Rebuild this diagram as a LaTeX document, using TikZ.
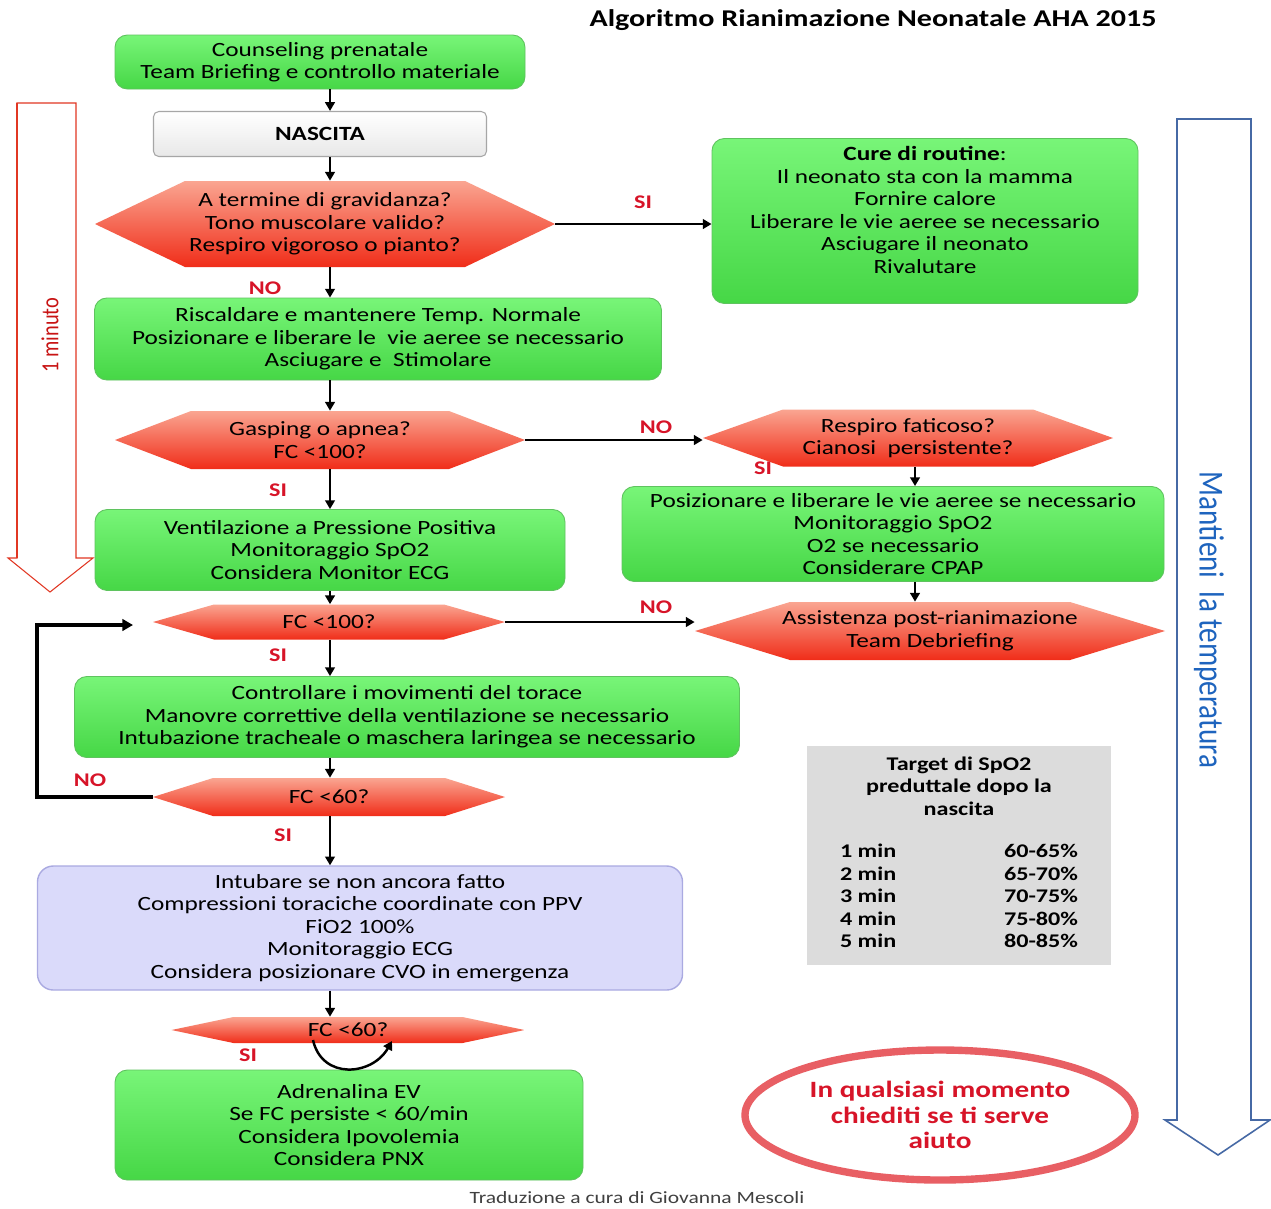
\documentclass[tikz,border=0pt]{standalone}
\usepackage{fontspec}
\setmainfont[FakeStretch=1.25]{Carlito}
\newfontfamily\rotfont[FakeStretch=0.83]{Carlito}
\usetikzlibrary{arrows.meta,shapes.geometric}
\definecolor{gtop}{RGB}{120,245,120}
\definecolor{gbot}{RGB}{70,215,70}
\definecolor{gedge}{RGB}{95,195,95}
\definecolor{htop}{RGB}{250,165,145}
\definecolor{hbot}{RGB}{240,45,25}
\definecolor{lav}{RGB}{218,218,250}
\definecolor{lavedge}{RGB}{170,170,225}
\definecolor{lblred}{RGB}{215,20,40}
\definecolor{tabgray}{RGB}{220,220,220}
\definecolor{ellred}{RGB}{232,95,100}
\definecolor{minred}{RGB}{225,55,35}
\definecolor{mintxt}{RGB}{200,20,20}
\definecolor{mblue}{RGB}{70,105,165}
\definecolor{tblue}{RGB}{30,100,190}
\def\u{0.02cm}
\tikzset{
 txt/.style={font=\fontsize{11.5}{12.8}\selectfont, align=center, inner sep=0pt},
 gbox/.style={txt, rounded corners=7pt, draw=gedge, line width=0.5pt, top color=gtop, bottom color=gbot},
 nbox/.style={txt, rounded corners=3pt, draw=gray!70, line width=0.6pt, top color=white, bottom color=gray!18},
 pbox/.style={txt, rounded corners=9pt, draw=lavedge, line width=0.8pt, fill=lav},
 hin/.code={\def\hexin{#1}},
 hexa/.style={txt, path picture={
   \shade[top color=htop, bottom color=hbot]
    (path picture bounding box.west)
    -- ([xshift=\hexin]path picture bounding box.north west)
    -- ([xshift=-\hexin]path picture bounding box.north east)
    -- (path picture bounding box.east)
    -- ([xshift=-\hexin]path picture bounding box.south east)
    -- ([xshift=\hexin]path picture bounding box.south west) -- cycle;}},
 arr/.style={line width=1.4pt, -{Triangle[length=5pt,width=5.5pt]}},
 loopl/.style={line width=2.2pt, -{Triangle[length=6pt,width=6.5pt]}},
 lbl/.style={text=lblred, font=\fontsize{11}{12}\selectfont\bfseries, inner sep=0pt},
}
\begin{document}
\begin{tikzpicture}[x=0.02cm,y=-0.02cm]
\useasboundingbox (0,0) rectangle (1271,1208);
\fill[white] (0,0) rectangle (1271,1208);

% side arrows
\draw[minred, line width=0.6pt] (17,103) -- (76,103) -- (76,558) -- (93,558) -- (50,592) -- (8,558) -- (17,558) -- cycle;
\draw[minred, line width=1.6pt] (17,103) -- (17,558);
\node[rotate=90, text=mintxt, font=\rotfont\fontsize{14}{16}\selectfont] (minuto) at (50,335) {1 minuto};
\draw[mblue, line width=0.9pt] (1177,119) -- (1251,119) -- (1251,1120) -- (1270,1120) -- (1218,1155) -- (1165,1120) -- (1177,1120) -- cycle;
\node[rotate=-90, text=tblue, font=\rotfont\fontsize{20}{22}\selectfont] (temp) at (1209,620) {Mantieni\ \ la temperatura};

% title
\node[txt, font=\fontsize{13.7}{15}\selectfont\bfseries] (title) at (873,20) {Algoritmo Rianimazione Neonatale AHA 2015};

% main flow
\node[gbox, minimum width=410*\u, minimum height=54*\u] (b1) at (320,62) {Counseling prenatale\\Team Briefing e controllo materiale};
\node[nbox, minimum width=333*\u, minimum height=45*\u] (nas) at (320,134) {\bfseries NASCITA};
\node[hexa, hin=90*\u, minimum width=460*\u, minimum height=86*\u] (h1) at (325,224) {A termine di gravidanza?\\Tono muscolare valido?\\Respiro vigoroso o pianto?};
\node[gbox, minimum width=426*\u, minimum height=165*\u] (cure) at (925,221) {\textbf{Cure di routine}:\\Il neonato sta con la mamma\\Fornire calore\\Liberare le vie aeree se necessario\\Asciugare il neonato\\Rivalutare\\\mbox{}};
\node[gbox, minimum width=567*\u, minimum height=82*\u] (b3) at (378,339) {Riscaldare e mantenere Temp. Normale\\Posizionare e liberare le\ \ vie aeree se necessario\\Asciugare e\ \ Stimolare};
\node[hexa, hin=76*\u, minimum width=410*\u, minimum height=58*\u] (h2) at (320,440) {Gasping o apnea?\\FC <100?};
\node[hexa, hin=80*\u, minimum width=410*\u, minimum height=57*\u] (h3) at (908,438) {Respiro faticoso?\\Cianosi\ \ persistente?};
\node[gbox, minimum width=542*\u, minimum height=95*\u] (b3r) at (893,534) {Posizionare e liberare le vie aeree se necessario\\Monitoraggio SpO2\\O2 se necessario\\Considerare CPAP};
\node[hexa, hin=95*\u, minimum width=470*\u, minimum height=58*\u] (h4) at (930,631) {Assistenza post-rianimazione\\Team Debriefing};
\node[gbox, minimum width=470*\u, minimum height=81*\u] (b4) at (330,550) {Ventilazione a Pressione Positiva\\Monitoraggio SpO2\\Considera Monitor ECG};
\node[hexa, hin=61*\u, minimum width=352*\u, minimum height=35*\u] (h5) at (329,622) {FC <100?};
\node[gbox, minimum width=665*\u, minimum height=81*\u] (b5) at (407,717) {Controllare i movimenti del torace\\Manovre correttive della ventilazione se necessario\\Intubazione tracheale o maschera laringea se necessario};
\node[hexa, hin=60*\u, minimum width=352*\u, minimum height=38*\u] (h6) at (329,797) {FC <60?};
\node[pbox, minimum width=645*\u, minimum height=124*\u] (b6) at (360,928) {Intubare se non ancora fatto\\Compressioni toraciche coordinate con PPV\\FiO2 100\%\\Monitoraggio ECG\\Considera posizionare CVO in emergenza};
\node[hexa, hin=62*\u, minimum width=353*\u, minimum height=26*\u] (h7) at (348,1030) {FC <60?};
\node[gbox, minimum width=468*\u, minimum height=110*\u] (b7) at (349,1125) {Adrenalina EV\\Se FC persiste < 60/min\\Considera Ipovolemia\\Considera PNX};

% table
\node[fill=tabgray, minimum width=304*\u, minimum height=219*\u, inner sep=0pt] (tab) at (959,855) {};
\node[font=\fontsize{11}{12.8}\selectfont\bfseries, align=center, inner sep=0pt] (tabh) at (959,786) {Target di SpO2\\preduttale dopo la\\nascita};
\node[font=\fontsize{11}{12.8}\selectfont\bfseries, inner sep=0pt] (tabr) at (959,898) {\begin{tabular*}{4.76cm}{@{}l@{\extracolsep{\fill}}r@{}}1 min & 60-65\%\\2 min & 65-70\%\\3 min & 70-75\%\\4 min & 75-80\%\\5 min & 80-85\%\end{tabular*}};

% help ellipse
\node[ellipse, draw=ellred, line width=4.2pt, minimum width=390*\u, minimum height=130*\u, text=lblred, font=\fontsize{13.3}{14.4}\selectfont\bfseries, align=center, inner sep=0pt] (help) at (940,1115) {In qualsiasi momento\\chiediti se ti serve\\aiuto};

% footer
\node[font=\fontsize{9.8}{11}\selectfont, text=black!75, inner sep=0pt] (foot) at (637,1198) {Traduzione a cura di Giovanna Mescoli};

% labels
\node[lbl] (si1) at (643,202) {SI};
\node[lbl] (no1) at (265,288) {NO};
\node[lbl] (no2) at (656,427) {NO};
\node[lbl] (si2) at (763,468) {SI};
\node[lbl] (si3) at (278,490) {SI};
\node[lbl] (no3) at (656,607) {NO};
\node[lbl] (si4) at (278,655) {SI};
\node[lbl] (no4) at (90,780) {NO};
\node[lbl] (si5) at (283,835) {SI};
\node[lbl] (si6) at (248,1055) {SI};

% connectors
\coordinate (col) at (330,0);
\coordinate (rcol) at (915,0);
\draw[arr] (b1.south -| col) -- (nas.north -| col);
\draw[arr] (nas.south -| col) -- (h1.north -| col);
\draw[arr] (h1.east) -- (h1.east -| cure.west);
\draw[arr] (h1.south -| col) -- (b3.north -| col);
\draw[arr] (b3.south -| col) -- (h2.north -| col);
\draw[arr] (h2.east) -- (h2.east -| h3.west);
\draw[arr] (h3.south -| rcol) -- (b3r.north -| rcol);
\draw[arr] (b3r.south -| rcol) -- (h4.north -| rcol);
\draw[arr] (h2.south -| col) -- (b4.north -| col);
\draw[arr] (b4.south -| col) -- (h5.north -| col);
\draw[arr] (h5.east) -- (h5.east -| h4.west);
\draw[arr] (h5.south -| col) -- (b5.north -| col);
\draw[arr] (b5.south -| col) -- (h6.north -| col);
\coordinate (lp) at (37,790);
\coordinate (lpend) at (133,625);
\draw[loopl] (h6.west) -- (h6.west -| lp) |- (lpend);
\draw[arr] (h6.south -| col) -- (b6.north -| col);
\draw[arr] (b6.south -| col) -- (h7.north -| col);
\coordinate (cv1) at (313,1040);
\coordinate (cva) at (322,1080);
\coordinate (cvb) at (372,1076);
\coordinate (cv2) at (392,1041);
\draw[arr] (cv1) .. controls (cva) and (cvb) .. (cv2);
\end{tikzpicture}
\end{document}
